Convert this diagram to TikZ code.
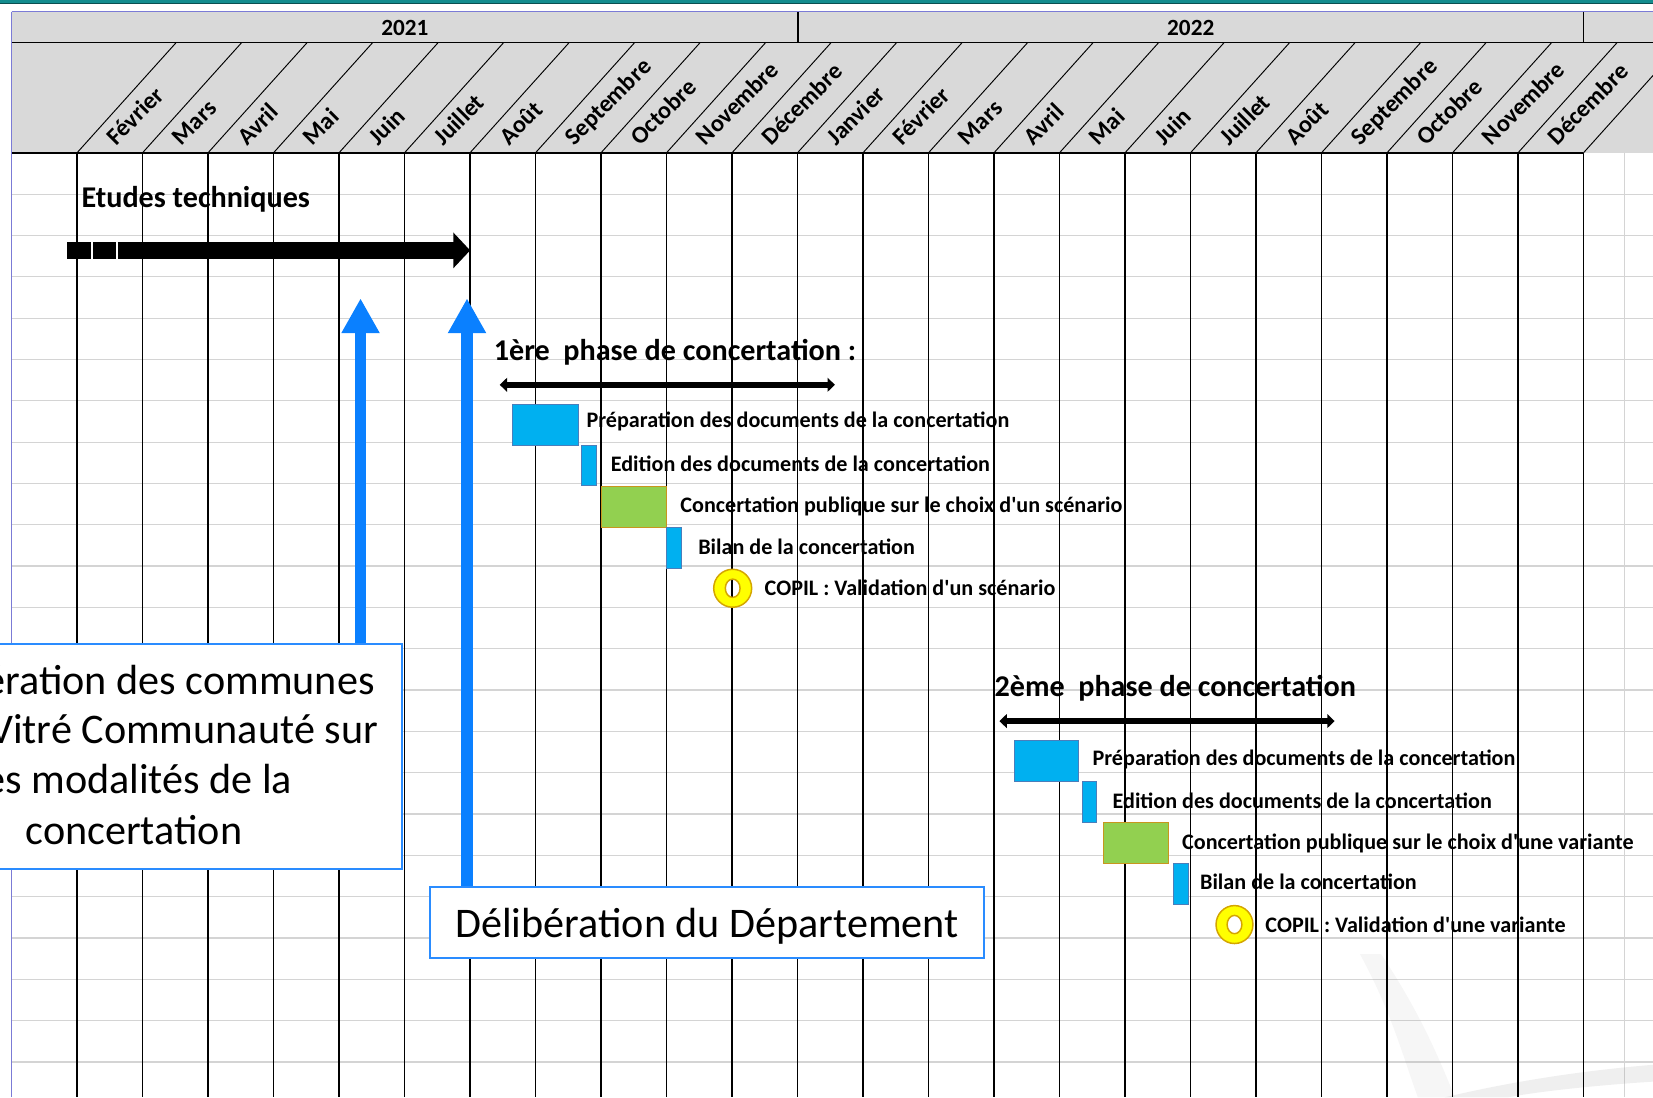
\documentclass[tikz,border=0pt]{standalone}
\usepackage{fontspec}
\setmainfont{Carlito}[Ligatures=TeXOff]
\usetikzlibrary{arrows.meta}
\definecolor{hdrgrey}{HTML}{D9D9D9}
\definecolor{gridgrey}{HTML}{D4D4D4}
\definecolor{edgeblue}{HTML}{7B7BD6}
\definecolor{topteal}{HTML}{138C8E}
\definecolor{topdark}{HTML}{0B4F50}
\definecolor{arrowblue}{HTML}{0A80FF}
\definecolor{boxblue}{HTML}{2A8CFF}
\definecolor{taskblue}{HTML}{00B0F0}
\definecolor{taskblueedge}{HTML}{4A7EBB}
\definecolor{taskgreen}{HTML}{92D050}
\definecolor{taskgreenedge}{HTML}{C8961E}
\definecolor{ringyellow}{HTML}{FFFF00}
\definecolor{ringedge}{HTML}{D4A500}
\tikzset{
  gridline/.style={draw=gridgrey, line width=0.6pt},
  colline/.style={draw=black, line width=0.6pt},
  hdrline/.style={draw=black, line width=0.7pt},
  diagline/.style={draw=black, line width=0.45pt},
  monthlabel/.style={anchor=base west, inner sep=0pt, rotate=45, font=\fontsize{11.5pt}{13pt}\selectfont\bfseries},
  yearlabel/.style={anchor=base, inner sep=0pt, font=\fontsize{11pt}{13pt}\selectfont\bfseries},
  phasetitle/.style={anchor=base west, inner sep=0pt, font=\fontsize{14.3pt}{17pt}\selectfont\bfseries},
  tasklabel/.style={anchor=base west, inner sep=0pt, font=\fontsize{10.5pt}{12pt}\selectfont\bfseries},
  taskbar/.style={anchor=north west, inner sep=0pt, fill=taskblue, draw=taskblueedge, line width=0.5pt},
  taskgreenbar/.style={anchor=north west, inner sep=0pt, fill=taskgreen, draw=taskgreenedge, line width=0.5pt},
  ringmark/.style={fill=ringyellow, draw=ringedge, line width=0.7pt, even odd rule},
  notebox/.style={draw=boxblue, line width=1pt, fill=white, inner sep=0pt},
  notetext/.style={inner sep=0pt, font=\fontsize{20pt}{24pt}\selectfont},
  bluearrow/.style={draw=arrowblue, line width=5.5pt, -{Triangle[length=16.5pt, width=17pt]}},
  spanarrow/.style={draw=black, line width=2.6pt, {Triangle[length=3.5pt, width=6.5pt]}-{Triangle[length=3.5pt, width=6.5pt]}},
  mainarrow/.style={draw=black, line width=8pt, -{Triangle[length=8pt, width=16.5pt]}},
}
\begin{document}
\begin{tikzpicture}[x=0.5pt, y=-0.5pt]
\path[use as bounding box, clip] (0,0) rectangle (1568,1041);
\fill[white] (0,0) rectangle (1568,1041);
% top bar
\fill[topteal] (0,0) rectangle (1568,2.6);
\draw[topdark, line width=0.5pt] (0,3) -- (1568,3);
% header background
\fill[hdrgrey] (11,11) rectangle (1568,145);
% body grid
\foreach \r in {1,...,22} \draw[gridline] (11,{145+39.2*\r}) -- (1568,{145+39.2*\r});
\draw[gridline] (1541,145) -- (1541,1041);
% faint background swoosh
\fill[gray, opacity=0.07] (1290,905) .. controls (1320,960) and (1330,1000) .. (1345,1041) -- (1380,1041) .. controls (1360,990) and (1340,950) .. (1310,905) -- cycle;
\fill[gray, opacity=0.12] (1370,1041) .. controls (1450,1022) and (1520,1014) .. (1568,1010) -- (1568,1026) .. controls (1520,1029) and (1460,1035) .. (1430,1041) -- cycle;
\foreach \c in {0,...,23} \draw[colline] ({73+62.13*\c},145) -- ({73+62.13*\c},1041);
% header lines
\foreach \c in {0,...,23} \draw[diagline] ({73+62.13*\c},145) -- ({167+62.13*\c},40.5);
\draw[hdrline] (11,40.5) -- (1568,40.5);
\draw[hdrline] (11,145) -- (1502,145);
\draw[hdrline] (757,11) -- (757,40.5);
\draw[hdrline] (1502,11) -- (1502,40.5);
\draw[edgeblue, line width=0.7pt] (11,11) -- (1568,11);
\draw[edgeblue, line width=0.7pt] (11,11) -- (11,1041);
% years
\node[yearlabel] (y2021) at (384,33.8) {2021};
\node[yearlabel] (y2022) at (1129.5,33.8) {2022};
% months
\foreach \m [count=\k from 0] in {Février,Mars,Avril,Mai,Juin,Juillet,Août,Septembre,Octobre,Novembre,Décembre,Janvier,Février,Mars,Avril,Mai,Juin,Juillet,Août,Septembre,Octobre,Novembre,Décembre}
  \node[monthlabel] (month\k) at ({110+62.13*\k},139) {\m};
% Etudes techniques
\node[phasetitle] (etudes) at (77,197) {Etudes techniques};
\fill[black] (64,229.5) rectangle (86,245.5);
\fill[black] (88,229.5) rectangle (110,245.5);
\coordinate (et0) at (111.5,237.5);
\coordinate (et1) at (446,237.5);
\draw[mainarrow] (et0) -- (et1);
% note boxes
\node[notebox, minimum width=253.75pt, minimum height=106.75pt] (note1) at (127.75,717.75) {};
\node[notetext, anchor=base east] (n1l1) at (355.7,658.3) {ération des communes};
\node[notetext, anchor=base east] (n1l2) at (358.9,705.5) {Vitré Communauté sur};
\node[notetext, anchor=base east] (n1l3) at (277.6,753) {es modalités de la};
\node[notetext, anchor=base] (n1l4) at (127,800.6) {concertation};
\node[notebox, notetext, minimum width=263pt, minimum height=33.3pt, text height=17pt, text depth=3pt] (note2) at (670.75,875) {Délibération du Département};
% blue arrows
\coordinate (tip1) at (342,283);
\coordinate (tip2) at (443,283);
\draw[bluearrow] (tip1 |- note1.north) -- (tip1);
\draw[bluearrow] (tip2 |- note2.north) -- (tip2);
% phase 1
\node[phasetitle] (ph1) at (468,342) {1ère\ \ phase de concertation :};
\coordinate (p1s) at (474,365);
\coordinate (p1e) at (792,365);
\draw[spanarrow] (p1s) -- (p1e);
\node[taskbar, minimum width=31pt, minimum height=19.5pt] (t1a) at (486,383) {};
\node[taskbar, minimum width=6.75pt, minimum height=19pt] (t1b) at (551.5,422) {};
\node[taskgreenbar, minimum width=31pt, minimum height=19.5pt] (t1c) at (570,461) {};
\node[taskbar, minimum width=7pt, minimum height=19.5pt] (t1d) at (632,500) {};
\coordinate (c1) at (695,558);
\path[ringmark] (c1) ellipse [x radius=18, y radius=18] (c1) ellipse [x radius=7, y radius=8.7];
\node[tasklabel] (l1a) at (556,405.5) {Préparation des documents de la concertation};
\node[tasklabel] (l1b) at (579,447.5) {Edition des documents de la concertation};
\node[tasklabel] (l1c) at (645,486.5) {Concertation publique sur le choix d'un scénario};
\node[tasklabel] (l1d) at (662,525.5) {Bilan de la concertation};
\node[tasklabel] (l1e) at (725,564.5) {COPIL : Validation d'un scénario};
% phase 2
\node[phasetitle] (ph2) at (943,661) {2ème\ \ phase de concertation};
\coordinate (p2s) at (948,684);
\coordinate (p2e) at (1266,684);
\draw[spanarrow] (p2s) -- (p2e);
\node[taskbar, minimum width=30.5pt, minimum height=19.25pt] (t2a) at (961.5,702) {};
\node[taskbar, minimum width=6.75pt, minimum height=19.5pt] (t2b) at (1026.5,740.5) {};
\node[taskgreenbar, minimum width=30.75pt, minimum height=19.5pt] (t2c) at (1046,780) {};
\node[taskbar, minimum width=6.75pt, minimum height=19.35pt] (t2d) at (1113,819) {};
\coordinate (c2) at (1171,877);
\path[ringmark] (c2) ellipse [x radius=17.5, y radius=18] (c2) ellipse [x radius=7, y radius=8.7];
\node[tasklabel] (l2a) at (1036,726.5) {Préparation des documents de la concertation};
\node[tasklabel] (l2b) at (1055,766.5) {Edition des documents de la concertation};
\node[tasklabel] (l2c) at (1121,805.5) {Concertation publique sur le choix d'une variante};
\node[tasklabel] (l2d) at (1138,843.5) {Bilan de la concertation};
\node[tasklabel] (l2e) at (1200,884.5) {COPIL : Validation d'une variante};
\end{tikzpicture}
\end{document}
